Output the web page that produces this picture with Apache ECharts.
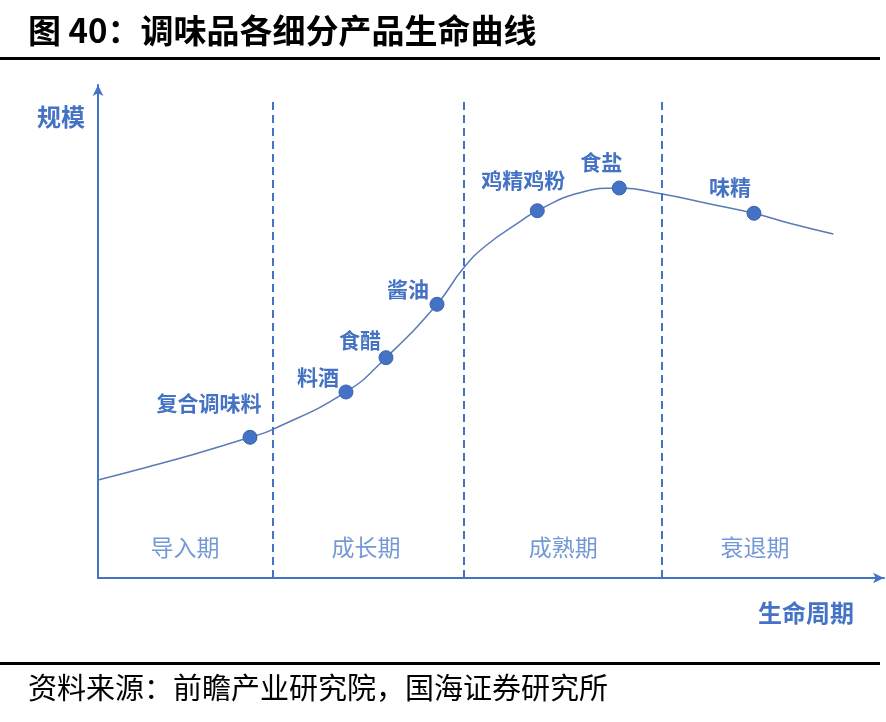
<!DOCTYPE html>
<html>
<head>
<meta charset="utf-8">
<script src="https://cdn.jsdelivr.net/npm/echarts@6/dist/echarts.min.js"></script>
<style>
html,body{margin:0;padding:0;background:#fff;}
#c{width:886px;height:722px;}
</style>
</head>
<body>
<div id="c"></div>
<script>
// ---- data ----
const curveX = [0, 5.98, 12.34, 19.34, 22.26, 31.55, 36.64, 43.13, 46.48, 49.45, 53.69, 55.89, 61.32, 66.32, 71.79, 77.44, 83.46, 87.99, 93.55];
const curveY = [19.88, 22.37, 25.15, 28.54, 30.16, 37.73, 44.69, 55.52, 62.82, 67.55, 72.27, 74.50, 78.15, 79.11, 77.89, 76.0, 73.98, 71.95, 69.78];
const productNames = ['复合调味料', '料酒', '食醋', '酱油', '鸡精鸡粉', '食盐', '味精'];
const productX = [19.34, 31.55, 36.64, 43.13, 55.89, 66.32, 83.46];
const productY = [28.54, 37.73, 44.69, 55.52, 74.50, 79.11, 73.98];
const stageNames = ['导入期', '成长期', '成熟期', '衰退期'];
const stageX = [11.07, 34.1, 59.2, 83.6];
const stageY = [6.3, 6.3, 6.3, 6.3];
const stageBoundaries = [22.26, 46.56, 71.76];
const boundaryTop = 97;

// ---- styling (label placement) ----
const labelOffsets = [[-41, -34], [-28, -15], [-26, -18], [-29, -15], [-14, -31], [-18, -26], [-24, -26]];

const BLUE = '#4472c4';
const FONT = '"Noto Sans CJK SC", "Noto Sans", sans-serif';

const chart = echarts.init(document.getElementById('c'), null, {renderer: 'canvas'});

const axisCommon = {
  type: 'value',
  min: 0,
  max: 100,
  axisTick: {show: false},
  axisLabel: {show: false},
  splitLine: {show: false},
  axisLine: {show: true, symbol: ['none', 'arrow'], symbolSize: [8, 11], lineStyle: {color: BLUE, width: 2}}
};

chart.setOption({
  animation: false,
  backgroundColor: '#fff',
  grid: {left: 98, right: 2, top: 85, bottom: 144},
  xAxis: Object.assign({}, axisCommon),
  yAxis: Object.assign({}, axisCommon),
  graphic: [
    {type: 'text', left: 28, top: 14, style: {text: '图 40：调味品各细分产品生命曲线', fontSize: 33, fontWeight: 'bold', fontFamily: FONT, fill: '#000'}},
    {type: 'rect', shape: {x: 0, y: 57, width: 880, height: 3}, style: {fill: '#000'}},
    {type: 'rect', shape: {x: 0, y: 662, width: 880, height: 3}, style: {fill: '#000'}},
    {type: 'text', left: 28, top: 673, style: {text: '资料来源：前瞻产业研究院，国海证券研究所', fontSize: 29, fontFamily: FONT, fill: '#000'}},
    {type: 'text', left: 37, top: 105, style: {text: '规模', fontSize: 24, fontWeight: 'bold', fontFamily: FONT, fill: BLUE}},
    {type: 'text', left: 758, top: 601, style: {text: '生命周期', fontSize: 24, fontWeight: 'bold', fontFamily: FONT, fill: BLUE}}
  ],
  series: [
    {
      type: 'line',
      data: curveX.map((x, i) => [x, curveY[i]]),
      smooth: 0.5,
      showSymbol: false,
      silent: true,
      lineStyle: {color: '#5a7ab8', width: 1.5},
      markLine: {
        silent: true,
        symbol: ['none', 'none'],
        label: {show: false},
        lineStyle: {color: BLUE, width: 2, type: [8, 5]},
        data: stageBoundaries.map(b => [{coord: [b, 0]}, {coord: [b, boundaryTop]}])
      },
      z: 2
    },
    {
      type: 'scatter',
      data: productX.map((x, i) => ({
        value: [x, productY[i]],
        name: productNames[i],
        label: {offset: labelOffsets[i]}
      })),
      symbolSize: 14,
      itemStyle: {color: BLUE, opacity: 1, borderColor: '#3a64ad', borderWidth: 1},
      label: {
        show: true,
        position: 'inside',
        formatter: p => p.name,
        color: BLUE,
        fontSize: 21,
        fontWeight: 'bold',
        fontFamily: FONT
      },
      silent: true,
      z: 3
    },
    {
      type: 'scatter',
      data: stageX.map((x, i) => ({value: [x, stageY[i]], name: stageNames[i]})),
      symbolSize: 0,
      label: {
        show: true,
        position: 'inside',
        formatter: p => p.name,
        color: '#4f7ecb',
        fontSize: 23,
        fontFamily: FONT
      },
      silent: true,
      z: 3
    }
  ]
});
</script>
</body>
</html>
